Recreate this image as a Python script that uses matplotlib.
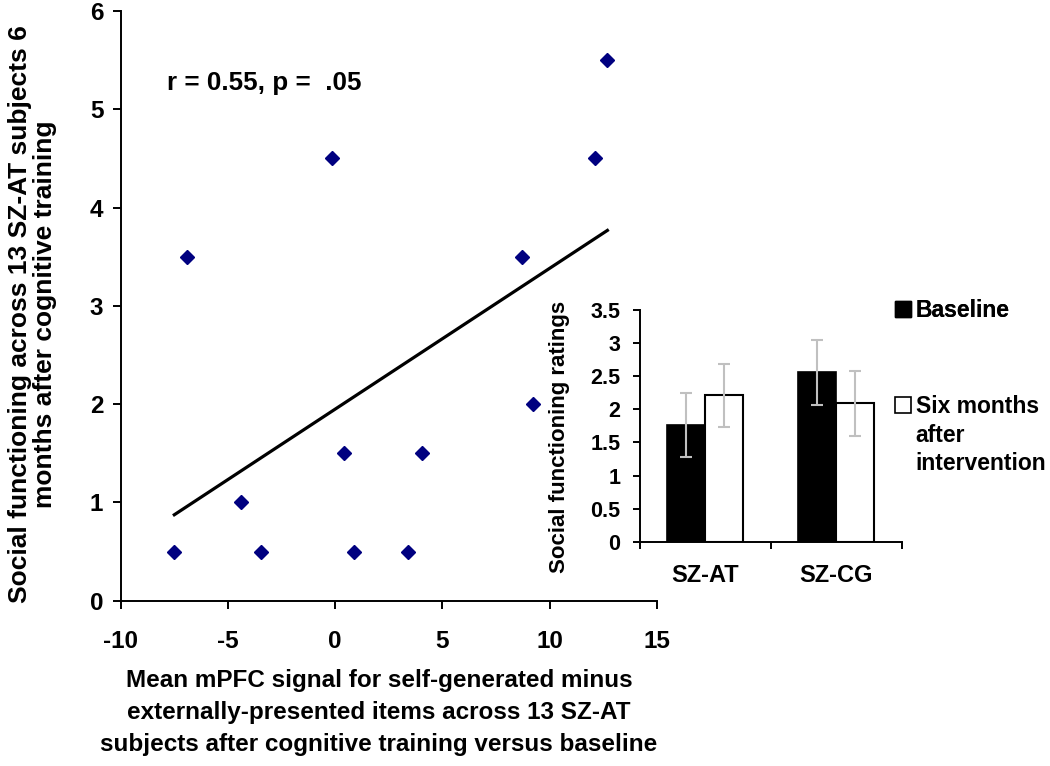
import numpy as np
import matplotlib
matplotlib.use("Agg")
import matplotlib.pyplot as plt
from matplotlib.patches import Patch

plt.rcParams['font.family'] = ['Liberation Sans', 'DejaVu Sans']
plt.rcParams['font.weight'] = 'bold'
plt.rcParams['axes.unicode_minus'] = False

# scatter: mPFC signal change vs social functioning (13 SZ-AT subjects)
mpfc_change = [-7.5, -6.9, -4.4, -3.45, -0.15, 0.4, 0.9, 3.4, 4.05, 8.7, 9.25, 12.1, 12.7]
social_func = [0.5, 3.5, 1.0, 0.5, 4.5, 1.5, 0.5, 0.5, 1.5, 3.5, 2.0, 4.5, 5.5]

# inset bars
groups = ['SZ-AT', 'SZ-CG']
baseline = [1.76, 2.56]
baseline_err = [0.48, 0.49]
six_months = [2.21, 2.09]
six_months_err = [0.48, 0.49]

fig = plt.figure(figsize=(10.5, 7.66), dpi=100)
W, H = 1050, 766

# main scatter axes (pixel box -> figure fraction)
ax = fig.add_axes([120.7 / W, 1 - 600.7 / H, 536 / W, 589.7 / H])
ax.plot(mpfc_change, social_func, ls='none', marker='D', ms=7,
        color='#000080', zorder=3)

# linear trend line over data range
x = np.array(mpfc_change)
slope, icpt = np.polyfit(x, social_func, 1)
xs = np.array([x.min(), x.max()])
ax.plot(xs, slope * xs + icpt, color='black', lw=2.3, zorder=2)

ax.set_xlim(-10, 15)
ax.set_ylim(0, 6)
ax.set_xticks([-10, -5, 0, 5, 10, 15])
ax.set_yticks(range(7))
for s in ['top', 'right']:
    ax.spines[s].set_visible(False)
for s in ['left', 'bottom']:
    ax.spines[s].set_linewidth(1.4)
ax.tick_params(axis='x', direction='out', length=6, width=1.4, pad=15, labelsize=17.5)
ax.tick_params(axis='y', direction='out', length=6, width=1.4, pad=6.5, labelsize=17.5)
for lab in ax.get_xticklabels() + ax.get_yticklabels():
    lab.set_fontweight('bold')

ax.text(-7.85, 5.27, 'r = 0.55, p =  .05', fontsize=18.7, fontweight='bold', va='center')

ax.set_xlabel('Mean mPFC signal for self-generated minus\n'
              'externally-presented items across 13 SZ-AT\n'
              'subjects after cognitive training versus baseline',
              fontsize=17.5, fontweight='bold', va='top', linespacing=1.5)
ax.xaxis.set_label_coords(0.482, -0.116)
ax.set_ylabel('Social functioning across 13 SZ-AT subjects 6\n'
              'months after cognitive training',
              fontsize=19, fontweight='bold', va='center', linespacing=1.08)
ax.yaxis.set_label_coords(-0.1646, 0.486)

# inset bar chart
ax2 = fig.add_axes([640 / W, 1 - 541.7 / H, 261.7 / W, 231.7 / H])
pos = np.arange(len(groups))
w = 0.29
ax2.bar(pos - w / 2, baseline, w, color='black', edgecolor='black', lw=1.2,
        yerr=baseline_err, ecolor='#c0c0c0', capsize=4.5,
        error_kw=dict(elinewidth=1.5, capthick=1.5))
ax2.bar(pos + w / 2, six_months, w, color='white', edgecolor='black', lw=1.5,
        yerr=six_months_err, ecolor='#c0c0c0', capsize=4.5,
        error_kw=dict(elinewidth=1.5, capthick=1.5))
ax2.set_xlim(-0.5, 1.5)
ax2.set_ylim(0, 3.5)
ax2.set_yticks(np.arange(0, 3.51, 0.5))
ax2.set_yticklabels(['0', '0.5', '1', '1.5', '2', '2.5', '3', '3.5'])
ax2.set_xticks([-0.5, 0.5, 1.5])
ax2.set_xticklabels([])
ax2.set_xticks(pos, minor=True)
ax2.set_xticklabels(groups, minor=True)
ax2.tick_params(axis='x', which='minor', length=0, pad=16, labelsize=17)
ax2.tick_params(axis='x', which='major', direction='out', length=5, width=1.4)
ax2.tick_params(axis='y', direction='out', length=5, width=1.4, pad=9, labelsize=15.5)
for lab in ax2.get_xticklabels(minor=True) + ax2.get_yticklabels():
    lab.set_fontweight('bold')
for s in ['top', 'right']:
    ax2.spines[s].set_visible(False)
for s in ['left', 'bottom']:
    ax2.spines[s].set_linewidth(1.4)
ax2.set_ylabel('Social functioning ratings', fontsize=16, fontweight='bold', va='center')
ax2.yaxis.set_label_coords(-0.306, 0.452)

# legends
leg_kw = dict(loc='upper left', frameon=False, borderpad=0, borderaxespad=0,
              handlelength=0.7, handleheight=0.7, handletextpad=0.2,
              prop=dict(size=16.5, weight='bold'))
leg1 = fig.legend(handles=[Patch(facecolor='black', edgecolor='black')], labels=['Baseline'],
                  bbox_to_anchor=(895 / W, 1 - 299 / H), **leg_kw)
fig.add_artist(leg1)
blank = Patch(facecolor='none', edgecolor='none')
fig.legend(handles=[Patch(facecolor='white', edgecolor='black', lw=1.2), blank, blank],
           labels=['Six months', 'after', 'intervention'],
           bbox_to_anchor=(895 / W, 1 - 395 / H), labelspacing=0.25, **leg_kw)

fig.savefig('out.png', dpi=100)
